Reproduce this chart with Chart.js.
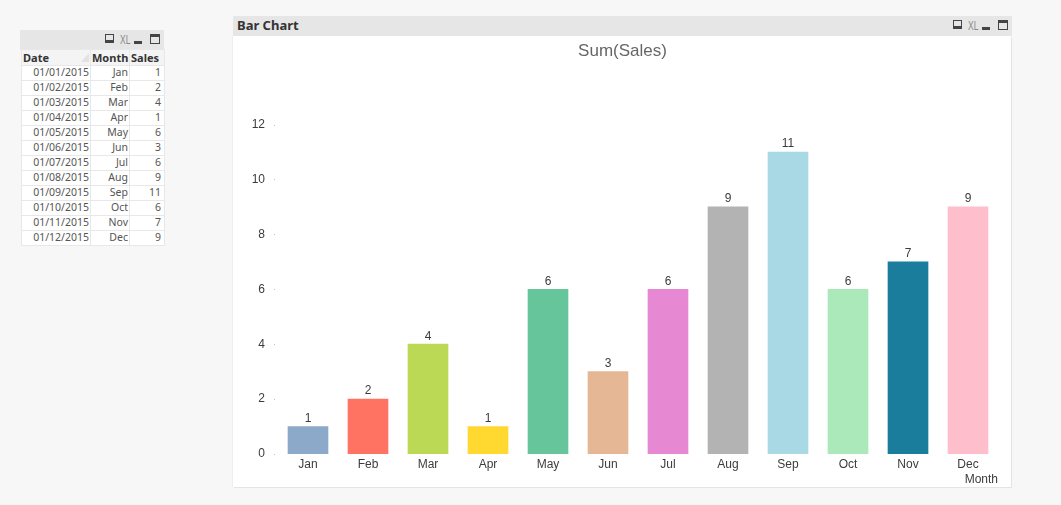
<!DOCTYPE html>
<html>
<head>
<meta charset="utf-8">
<title>Bar Chart</title>
<script src="https://cdn.jsdelivr.net/npm/chart.js@4"></script>
<style>
html, body { margin: 0; padding: 0; width: 1061px; height: 505px; overflow: hidden; background: #f7f7f7; }
.caption { position: absolute; background: #e6e6e6; }
.caption b { position: absolute; left: 4px; top: 0; font: bold 13px "Noto Sans", sans-serif; color: #333; }
.icons { position: absolute; right: 2px; top: 4px; width: 58px; height: 14px; }
.icons .xl { position: absolute; left: 16px; top: -2px; font: 13px "Liberation Sans", sans-serif; color: #888; transform: scaleX(0.65); transform-origin: left; }
.icons .print { position: absolute; left: 1px; top: 0; width: 7px; height: 5px; border: 1px solid #444; border-bottom: 3px solid #444; }
.icons .min { position: absolute; left: 30px; top: 7px; width: 8px; height: 3px; background: #444; }
.icons .max { position: absolute; left: 46px; top: 0; width: 8px; height: 6px; border: 1px solid #444; border-top: 3px solid #444; }
#panel { position: absolute; left: 233px; top: 36px; width: 778px; height: 451px; background: #fff; box-shadow: 1px 1px 0 #e4e4e4, -1px 0 0 #eee; }
#salesChart { position: absolute; left: 1px; top: 0; }
#salesTable { position: absolute; left: 21px; top: 49px; border-collapse: collapse; table-layout: fixed; width: 143px; background: #fff; font: 10.5px "Noto Sans", sans-serif; color: #555; }
#salesTable th { position: relative; height: 12px; line-height: 12px; padding: 0 1px; background: #f4f4f4; font: bold 11px "Noto Sans", sans-serif; color: #333; text-align: left; border: 1px solid #e8e8e8; }
#salesTable td { height: 12px; line-height: 12px; padding: 0 1px 2px; text-align: right; border: 1px solid #e8e8e8; }
#salesTable td:last-child { padding-right: 3px; }
.sort-mark { position: absolute; right: 1px; top: 3px; width: 0; height: 0; border-left: 8px solid transparent; border-bottom: 9px solid #e2e2e2; }
</style>
</head>
<body>
<div class="caption" style="left:20px;top:30px;width:144px;height:20px">
    <div class="icons"><span class="print"></span><span class="xl">XL</span><span class="min"></span><span class="max"></span></div>
</div>
<table id="salesTable">
    <colgroup><col style="width:69px"><col style="width:39px"><col style="width:35px"></colgroup>
    <thead><tr><th>Date<span class="sort-mark"></span></th><th>Month</th><th>Sales</th></tr></thead>
    <tbody id="salesRows"></tbody>
</table>
<div class="caption" style="left:233px;top:16px;width:779px;height:20px">
    <b>Bar Chart</b>
    <div class="icons"><span class="print"></span><span class="xl">XL</span><span class="min"></span><span class="max"></span></div>
</div>
<div id="panel"><canvas id="salesChart" width="777" height="451"></canvas></div>

<script>
const dates = ['01/01/2015', '01/02/2015', '01/03/2015', '01/04/2015', '01/05/2015', '01/06/2015',
    '01/07/2015', '01/08/2015', '01/09/2015', '01/10/2015', '01/11/2015', '01/12/2015'];
const months = ['Jan', 'Feb', 'Mar', 'Apr', 'May', 'Jun', 'Jul', 'Aug', 'Sep', 'Oct', 'Nov', 'Dec'];
const sales = [1, 2, 4, 1, 6, 3, 6, 9, 11, 6, 7, 9];
const barColors = ['#8ca9c9', '#ff7362', '#bbd955', '#ffd92f', '#66c59a', '#e5b795',
    '#e788d2', '#b3b3b3', '#a8d9e5', '#abe9bb', '#1a7d9c', '#ffbecb'];

const TEXT_COLOR = '#3c3c3c';
const CHART_FONT = '"Liberation Sans", sans-serif';

document.getElementById('salesRows').innerHTML = dates.map((d, i) =>
    `<tr><td>${d}</td><td>${months[i]}</td><td>${sales[i]}</td></tr>`).join('');

// value above each bar, plus the small dots QlikView uses as y ticks
const barLabels = {
    id: 'barLabels',
    afterDatasetsDraw(chart) {
        const ctx = chart.ctx;
        ctx.save();
        ctx.font = '12px ' + CHART_FONT;
        ctx.fillStyle = TEXT_COLOR;
        ctx.textAlign = 'center';
        ctx.textBaseline = 'bottom';
        chart.getDatasetMeta(0).data.forEach((bar, i) => {
            ctx.fillText(sales[i], bar.x, bar.y - 2);
        });
        const yScale = chart.scales.y;
        ctx.fillStyle = '#c0c0c0';
        yScale.ticks.forEach((tick, i) => {
            ctx.fillRect(yScale.right - 4, Math.round(yScale.getPixelForTick(i)), 1, 1);
        });
        ctx.restore();
    }
};

new Chart(document.getElementById('salesChart').getContext('2d'), {
    type: 'bar',
    data: {
        labels: months,
        datasets: [{
            data: sales,
            backgroundColor: barColors,
            barThickness: 40
        }]
    },
    plugins: [barLabels],
    options: {
        responsive: false,
        animation: false,
        plugins: {
            legend: { display: false },
            tooltip: { enabled: false },
            title: {
                display: true,
                text: 'Sum(Sales)',
                color: '#666',
                font: { family: CHART_FONT, size: 17, weight: 'normal' },
                padding: { top: 5, bottom: 63.2 }
            }
        },
        scales: {
            x: {
                border: { display: false },
                grid: { display: false, tickLength: 0 },
                ticks: { color: TEXT_COLOR, font: { family: CHART_FONT, size: 12 }, padding: 3, maxRotation: 0 },
                title: {
                    display: true,
                    text: 'Month',
                    align: 'end',
                    color: TEXT_COLOR,
                    font: { family: CHART_FONT, size: 12 },
                    padding: 0
                },
                afterFit(scale) { scale.height = 33; }
            },
            y: {
                min: 0,
                max: 12,
                border: { display: false },
                grid: { display: false, tickLength: 0 },
                ticks: { stepSize: 2, color: TEXT_COLOR, font: { family: CHART_FONT, size: 12 }, padding: 13 },
                afterFit(scale) { scale.width = 44; }
            },
            // empty axis, only holds the plot off the right edge so the title stays centred on the panel
            rightGap: {
                position: 'right',
                border: { display: false },
                grid: { display: false },
                ticks: { display: false },
                afterFit(scale) { scale.width = 13; }
            }
        }
    }
});
</script>
</body>
</html>
